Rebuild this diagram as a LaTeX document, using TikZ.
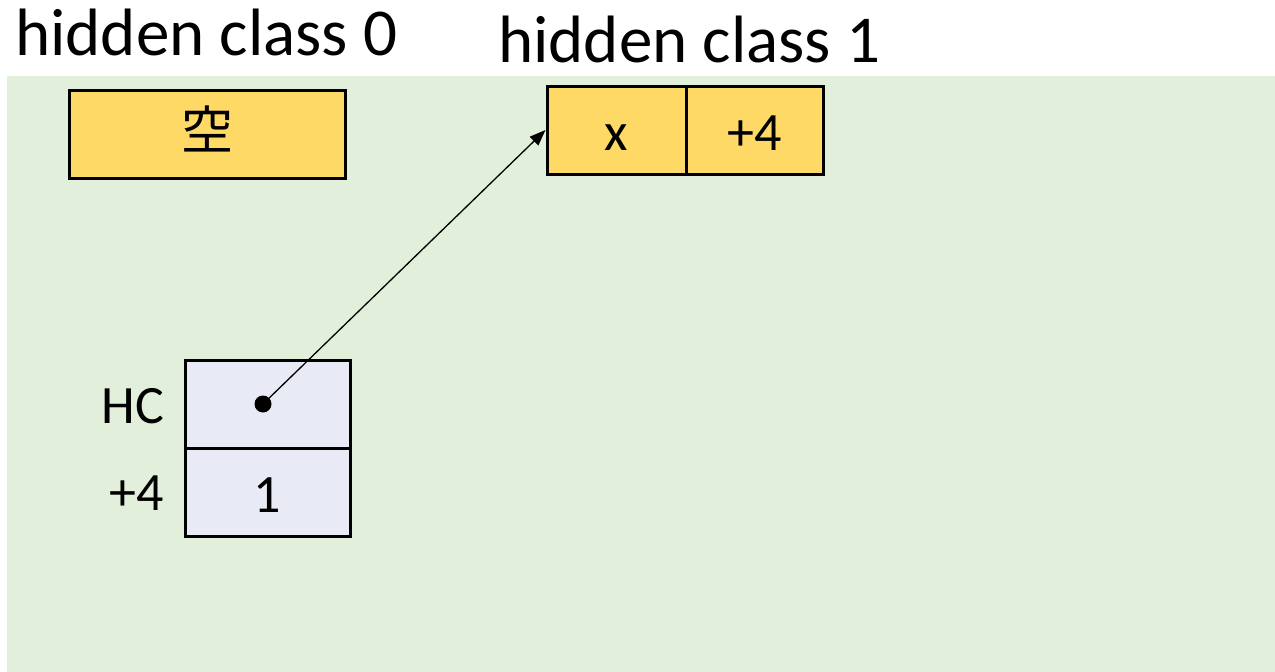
\documentclass[tikz,border=0pt]{standalone}
\usepackage{fontspec}
\setmainfont{Carlito}
\newfontfamily\cjk{Noto Sans CJK JP}
\usetikzlibrary{arrows.meta}
\definecolor{bggreen}{HTML}{E2EFDA}
\definecolor{gold}{HTML}{FFD966}
\definecolor{paleblue}{HTML}{E8EBF5}
\tikzset{
  title/.style={font=\fontsize{67}{72}\selectfont, inner sep=0pt},
  cell/.style={draw=black, line width=3pt, inner sep=0pt, font=\fontsize{54}{60}\selectfont, text height=40pt, text depth=0pt},
  hcell/.style={cell, fill=gold, minimum height=88pt},
  ocell/.style={cell, fill=paleblue, minimum width=165pt, minimum height=88pt},
  lbl/.style={font=\fontsize{54}{60}\selectfont, inner sep=0pt, anchor=base east},
  ptr/.style={line width=1.3pt, -{Triangle[length=16pt,width=12pt]}}
}
\begin{document}
\begin{tikzpicture}[x=1pt,y=-1pt]
\useasboundingbox (0,0) rectangle (1275,672);
\fill[bggreen] (7,76) rectangle (1275,672);
\node[title, anchor=base west] (t0) at (15,55) {hidden class 0};
\node[title, anchor=base west] (t1) at (498,62) {hidden class 1};
\node[hcell, minimum width=276pt, text height=30pt] (empty) at (207,134) {\cjk\fontsize{52}{58}\selectfont 空};
\node[hcell, minimum width=139pt] (x) at (616.5,130) {x};
\node[hcell, minimum width=137pt] (off) at (754.5,130) {+4};
\node[ocell] (hc) at (267.5,404) {};
\node[ocell] (one) at (267.5,492) {1};
\node[lbl] (hclbl) at (164,423) {HC};
\node[lbl] (offlbl) at (164,510) {+4};
\node[circle, fill=black, minimum size=17pt, inner sep=0pt] (dot) at (263,404) {};
\draw[ptr] (dot.center) -- (x.west);
\end{tikzpicture}
\end{document}
